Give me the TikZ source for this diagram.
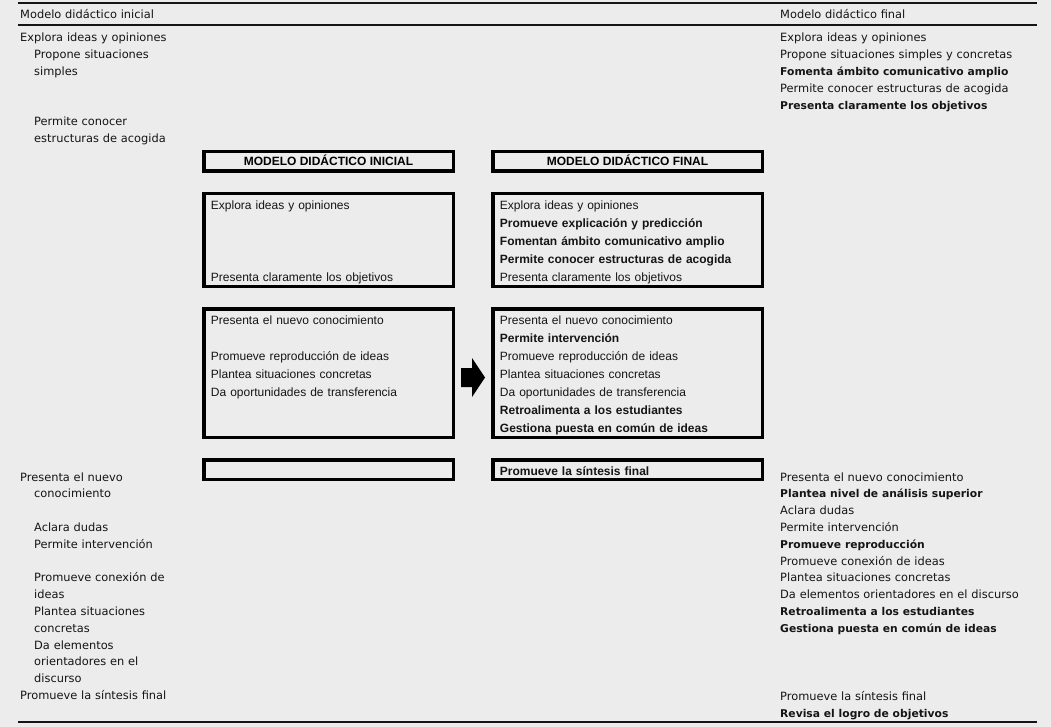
\documentclass[tikz,border=0pt]{standalone}
\usepackage{fontspec}
\setmainfont{DejaVu Sans}
\newfontfamily\arialfont{Liberation Sans}
\definecolor{fondo}{HTML}{ECECEC}
\definecolor{tinta}{HTML}{151515}
% negrita algo mas estrecha para las columnas laterales
\newcommand{\negrita}[1]{{\bfseries\fontsize{10.75}{16.8}\selectfont #1}}

\begin{document}
\begin{tikzpicture}[
        x=1pt, y=-1pt,
        lado/.style={anchor=base west, inner sep=0pt, align=left, text width=262pt, text=tinta,
            font=\fontsize{11.4}{16.8}\selectfont},
        caja/.style={draw=black, line width=3.5pt, anchor=north west, inner sep=0pt, outer sep=0pt, minimum width=#1},
        titulo/.style={font=\arialfont\bfseries\fontsize{12}{14}\selectfont, text height=8.6pt, text depth=0pt},
        textocaja/.style={anchor=base west, inner sep=0pt, align=left, text width=250pt, text=tinta,
            font=\arialfont\fontsize{12}{18}\selectfont},
        regla/.style={line width=1.3pt, draw=tinta}
    ]
        \useasboundingbox (0,0) rectangle (1051,727);
        \fill[fondo] (0,0) rectangle (1051,727);

        % lineas de la tabla
        \coordinate (r1a) at (18,3);   \coordinate (r1b) at (1037,3);
        \coordinate (r2a) at (18,25);  \coordinate (r2b) at (1037,25);
        \coordinate (r3a) at (18,722); \coordinate (r3b) at (1037,722);
        \draw[regla] (r1a) -- (r1b);
        \draw[regla] (r2a) -- (r2b);
        \draw[regla] (r3a) -- (r3b);

        \node[lado] (encini) at (20,19) {Modelo didáctico inicial};
        \node[lado] (encfin) at (780,19) {Modelo didáctico final};

        % columna izquierda
        \node[lado] (izqarriba) at (20,42) {Explora ideas y opiniones\\
            \hspace*{14pt}Propone situaciones\\
            \hspace*{14pt}simples\\[33.6pt]
            \hspace*{14pt}Permite conocer\\
            \hspace*{14pt}estructuras de acogida};
        \node[lado] (izqabajo) at (20,481) {Presenta el nuevo\\
            \hspace*{14pt}conocimiento\\[16.8pt]
            \hspace*{14pt}Aclara dudas\\
            \hspace*{14pt}Permite intervención\\[16.8pt]
            \hspace*{14pt}Promueve conexión de\\
            \hspace*{14pt}ideas\\
            \hspace*{14pt}Plantea situaciones\\
            \hspace*{14pt}concretas\\
            \hspace*{14pt}Da elementos\\
            \hspace*{14pt}orientadores en el\\
            \hspace*{14pt}discurso\\
            Promueve la síntesis final};

        % columna derecha
        \node[lado] (derarriba) at (780,42) {Explora ideas y opiniones\\
            Propone situaciones simples y concretas\\
            \negrita{Fomenta ámbito comunicativo amplio}\\
            Permite conocer estructuras de acogida\\
            \negrita{Presenta claramente los objetivos}};
        \node[lado] (derabajo) at (780,481) {Presenta el nuevo conocimiento\\
            \negrita{Plantea nivel de análisis superior}\\
            Aclara dudas\\
            Permite intervención\\
            \negrita{Promueve reproducción}\\
            Promueve conexión de ideas\\
            Plantea situaciones concretas\\
            Da elementos orientadores en el discurso\\
            \negrita{Retroalimenta a los estudiantes}\\
            \negrita{Gestiona puesta en común de ideas}};
        \node[lado] (derfinal) at (780,700.5) {Promueve la síntesis final\\
            \negrita{Revisa el logro de objetivos}};

        % cajas del modelo inicial
        \node[caja=249.5pt, minimum height=19.5pt, titulo] (ini1) at (203.75,151.75) {MODELO DIDÁCTICO INICIAL};
        \node[caja=249.5pt, minimum height=92.5pt] (ini2) at (203.75,193.75) {};
        \node[caja=249.5pt, minimum height=128.5pt] (ini3) at (203.75,308.75) {};
        \node[caja=249.5pt, minimum height=19.5pt] (ini4) at (203.75,459.75) {};

        % cajas del modelo final
        \node[caja=269.5pt, minimum height=19.5pt, titulo] (fin1) at (492.75,151.75) {MODELO DIDÁCTICO FINAL};
        \node[caja=269.5pt, minimum height=92.5pt] (fin2) at (492.75,193.75) {};
        \node[caja=269.5pt, minimum height=128.5pt] (fin3) at (492.75,308.75) {};
        \node[caja=269.5pt, minimum height=19.5pt] (fin4) at (492.75,459.75) {};

        \node[textocaja] (ini2txt) at ([xshift=7pt, yshift=-15.3pt]ini2.north west) {Explora ideas y opiniones\\[54pt]
            Presenta claramente los objetivos};
        \node[textocaja] (ini3txt) at ([xshift=7pt, yshift=-15.3pt]ini3.north west) {Presenta el nuevo conocimiento\\[18pt]
            Promueve reproducción de ideas\\
            Plantea situaciones concretas\\
            Da oportunidades de transferencia};

        \node[textocaja] (fin2txt) at ([xshift=7pt, yshift=-15.3pt]fin2.north west) {Explora ideas y opiniones\\
            \textbf{Promueve explicación y predicción}\\
            \textbf{Fomentan ámbito comunicativo amplio}\\
            \textbf{Permite conocer estructuras de acogida}\\
            Presenta claramente los objetivos};
        \node[textocaja] (fin3txt) at ([xshift=7pt, yshift=-15.3pt]fin3.north west) {Presenta el nuevo conocimiento\\
            \textbf{Permite intervención}\\
            Promueve reproducción de ideas\\
            Plantea situaciones concretas\\
            Da oportunidades de transferencia\\
            \textbf{Retroalimenta a los estudiantes}\\
            \textbf{Gestiona puesta en común de ideas}};
        \node[textocaja] (fin4txt) at ([xshift=7pt, yshift=-15.3pt]fin4.north west) {\textbf{Promueve la síntesis final}};

        % flecha entre modelos
        \fill[black] (461,368) -- (472,368) -- (472,358) -- (485,377.5) -- (472,397) -- (472,387) -- (461,387) -- cycle;
    \end{tikzpicture}
\end{document}
